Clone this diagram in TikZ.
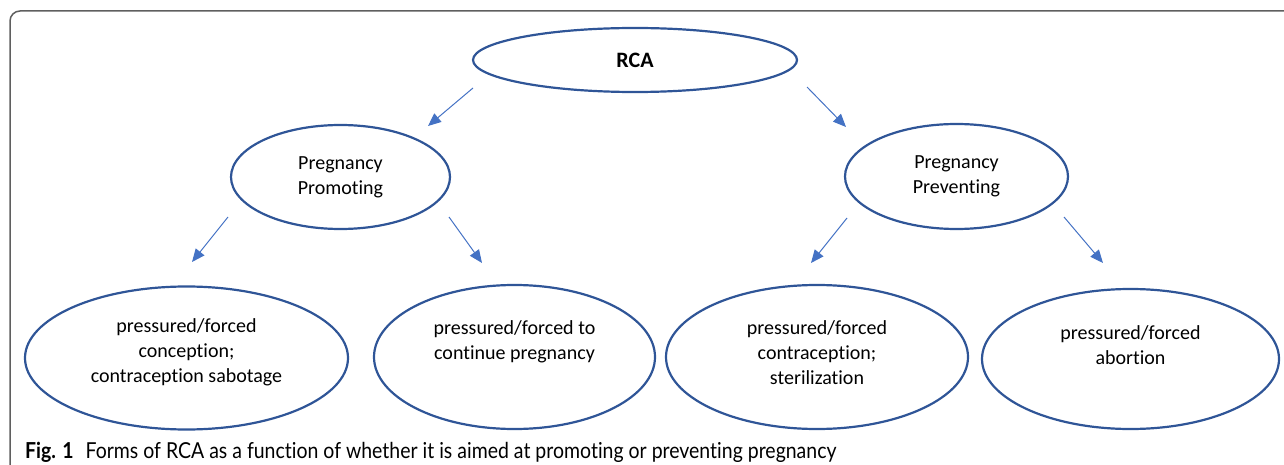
\documentclass[tikz,border=0pt]{standalone}
\usepackage{fontspec}
\setmainfont{Carlito}[Ligatures=NoCommon]
\newfontfamily\capfont[FakeStretch=0.885,Ligatures=NoCommon]{Lato}
\usetikzlibrary{arrows.meta,shapes.geometric}
\definecolor{ovalblue}{HTML}{2F5597}
\definecolor{arrowblue}{HTML}{4472C4}
\definecolor{framegray}{HTML}{5F5F5F}

\begin{document}
\begin{tikzpicture}[x=1pt, y=-1pt,
    oval/.style={ellipse, draw=ovalblue, line width=2.2pt, inner sep=0pt, align=center, font=\fontsize{20}{25}\selectfont},
    push/.style={draw=arrowblue, line width=1pt, -{Triangle[length=13pt,width=11pt]}},
    every label/.style={align=center, font=\fontsize{20}{25}\selectfont}]
    \useasboundingbox (0,0) rectangle (1284,465);
    \draw[framegray, line width=1.5pt, rounded corners=10pt] (10,470) -- (10,11) -- (1290,11);

    \node[oval, minimum width=324, minimum height=64]   (rca)   at (635,60)      {\fontsize{22}{26}\selectfont\bfseries RCA};
    \node[oval, minimum width=219, minimum height=104]  (promo) at (340.5,177)   {Pregnancy\\Promoting};
    \node[oval, minimum width=223, minimum height=105]  (prev)  at (956.5,176.5) {Pregnancy\\Preventing};

    \node[oval, minimum width=323, minimum height=143,
          label={[yshift=6pt]center:{pressured/forced\\conception;\\contraception sabotage}}]  (conc)  at (186.5,358) {};
    \node[oval, minimum width=281, minimum height=144,
          label={[yshift=15pt]center:{pressured/forced to\\continue pregnancy}}]            (cont)  at (514.5,357) {};
    \node[oval, minimum width=302, minimum height=144,
          label={[yshift=4pt]center:{pressured/forced\\contraception;\\sterilization}}]     (contr) at (817,357)   {};
    \node[oval, minimum width=297, minimum height=140,
          label={[yshift=14pt]center:{pressured/forced\\abortion}}]                        (abort) at (1130.5,359) {};

    % free ends of the arrows
    \coordinate (rca-l)   at (473,88);   \coordinate (promo-in) at (428,126);
    \coordinate (rca-r)   at (807,87);   \coordinate (prev-in)  at (846,127);
    \coordinate (promo-l) at (228,217);  \coordinate (conc-in)  at (192,262);
    \coordinate (promo-r) at (449,217);  \coordinate (cont-in)  at (482,263);
    \coordinate (prev-l)  at (847,218);  \coordinate (contr-in) at (811,263);
    \coordinate (prev-r)  at (1064,217); \coordinate (abort-in) at (1103,263);

    \draw[push] (rca-l)   -- (promo-in);
    \draw[push] (rca-r)   -- (prev-in);
    \draw[push] (promo-l) -- (conc-in);
    \draw[push] (promo-r) -- (cont-in);
    \draw[push] (prev-l)  -- (contr-in);
    \draw[push] (prev-r)  -- (abort-in);

    \node[anchor=base west, inner sep=0pt, font={\capfont\fontsize{22}{26}\selectfont}] (caption) at (25,458)
        {\textbf{Fig. 1}\hspace{12pt}Forms of RCA as a function of whether it is aimed at promoting or preventing pregnancy};
\end{tikzpicture}
\end{document}
